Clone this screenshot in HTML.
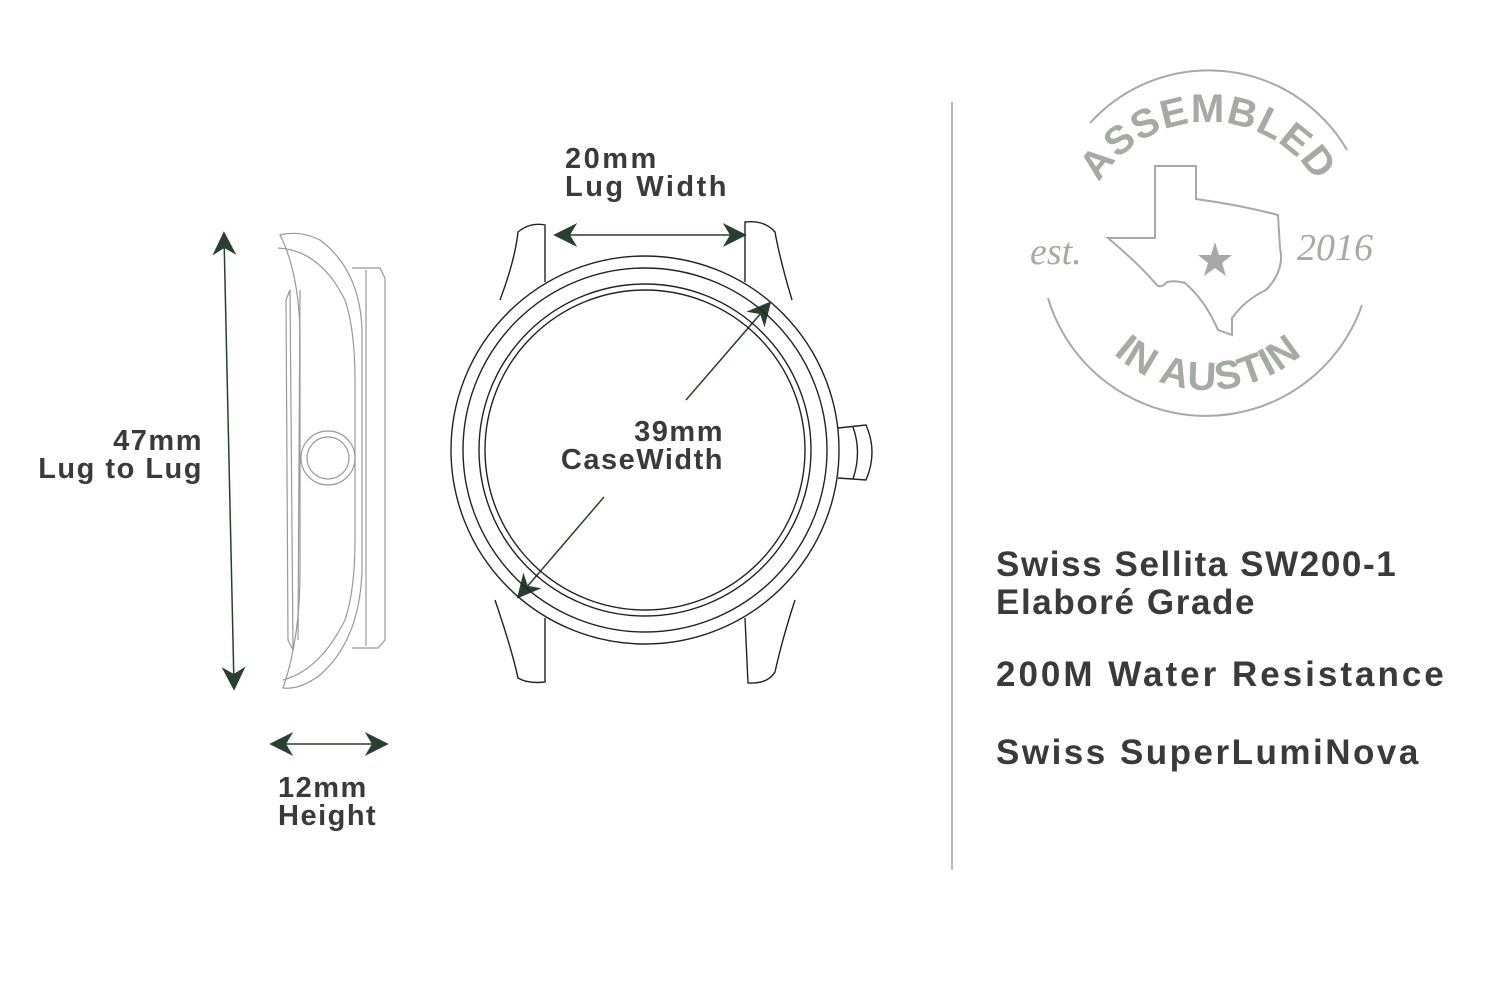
<!DOCTYPE html>
<html><head><style>
body{margin:0;width:1500px;height:984px;background:#fff;overflow:hidden;position:relative;font-family:"Liberation Sans",sans-serif;color:#3a3a3a}
.t{position:absolute;font-weight:bold;line-height:1;white-space:nowrap}
</style></head><body>
<svg width="1500" height="984" style="position:absolute;left:0;top:0">
<defs>
<marker id="b" viewBox="0 0 10 10" refX="8" refY="5" markerWidth="24" markerHeight="24" markerUnits="userSpaceOnUse" orient="auto-start-reverse"><path d="M0,0 L10,5 L0,10 L3,5 Z" fill="#27402f"/></marker>
<path id="arcTop" d="M1080,250 A128,128 0 0 1 1336,250"/>
<path id="arcBot" d="M1066,248 A142,142 0 0 0 1350,248"/>
</defs>
<g stroke="#27402f" stroke-width="1.5" fill="none">
<line x1="224" y1="236" x2="234" y2="686" marker-start="url(#b)" marker-end="url(#b)"/>
<line x1="274" y1="744" x2="384" y2="744" marker-start="url(#b)" marker-end="url(#b)"/>
<line x1="558" y1="235" x2="742" y2="235" marker-start="url(#b)" marker-end="url(#b)"/>
<line x1="686" y1="400" x2="768" y2="305" marker-end="url(#b)"/>
<line x1="604" y1="497" x2="520" y2="595" marker-end="url(#b)"/>
</g>
<g stroke="#999" stroke-width="1.2" fill="none">
<path d="M280,235 Q300,230 320,240 Q360,270 362,330 L362,570 Q360,640 320,675 Q300,690 283,688 Q300,640 300,570 L300,330 Q298,270 280,235 Z"/>
<path d="M278,248 Q320,250 345,300 Q355,330 355,380 L355,540 Q355,590 345,620 Q320,670 283,680"/>
<path d="M290,290 L286,300 L288,640 L293,650 Z"/>
<path d="M300,290 L298,640"/>
<path d="M352,268 L380,268 L385,278 L385,640 L378,648 L352,648"/>
<path d="M366,270 L366,646"/>
<circle cx="328" cy="458" r="27"/>
<circle cx="328" cy="458" r="21"/>
</g>
<g stroke="#222" stroke-width="1.4" fill="none">
<circle cx="645" cy="450" r="194"/>
<circle cx="645" cy="450" r="182"/>
<circle cx="645" cy="450" r="166"/>
<circle cx="645" cy="450" r="160"/>
<path d="M545,282 L545,225 Q530,222 518,232 Q515,260 500,300"/>
<path d="M745,282 L745,222 Q765,220 775,232 Q780,260 792,300"/>
<path d="M545,618 L545,682 Q528,684 518,678 Q512,650 495,600"/>
<path d="M745,618 L748,683 Q768,684 775,672 Q782,640 795,600"/>
<path d="M838,428 L866,425 Q878,452 866,480 L838,478"/>
<path d="M853,427 Q862,452 853,479"/>
</g>
<line x1="952" y1="102" x2="952" y2="870" stroke="#888" stroke-width="1.2"/>
<g stroke="#a5aba4" stroke-width="2" fill="none">
<path d="M1090,123 A160,160 0 0 1 1347,150"/>
<path d="M1048,298 A165,165 0 0 0 1362,305"/>
<path d="M1155,166 L1196,166 L1196,199 Q1240,205 1278,215 L1280,248 Q1285,270 1266,290 Q1245,300 1232,318 Q1232,330 1232,335 L1218,330 Q1205,300 1185,283 Q1175,280 1167,282 Q1160,290 1155,283 Q1140,265 1108,238 L1155,238 Z"/>
</g>
<polygon points="1215,242 1219,255 1232,255 1222,263 1226,276 1215,268 1204,276 1208,263 1198,255 1211,255" fill="#a5aba4"/>
<g fill="#a5aba4" font-family="Liberation Sans" font-weight="bold">
<text font-size="40" letter-spacing="1"><textPath href="#arcTop" startOffset="50%" text-anchor="middle">ASSEMBLED</textPath></text>
<text font-size="40" letter-spacing="1"><textPath href="#arcBot" startOffset="50%" text-anchor="middle">IN AUSTIN</textPath></text>
</g>
<g fill="#a5aba4" font-family="Liberation Serif" font-style="italic" font-size="38">
<text x="1030" y="264">est.</text>
<text x="1297" y="260">2016</text>
</g>
</svg>
<div class="t" style="left:0px;top:427px;font-size:29px;width:203px;text-align:right;line-height:28px;letter-spacing:1.5px">47mm<br>Lug to Lug</div>
<div class="t" style="left:278px;top:774px;font-size:29px;line-height:28px;letter-spacing:1.5px">12mm<br>Height</div>
<div class="t" style="left:565px;top:145px;font-size:29px;line-height:28px;letter-spacing:2.5px">20mm<br>Lug Width</div>
<div class="t" style="left:420px;top:418px;font-size:29px;width:304px;text-align:right;line-height:28px;letter-spacing:1.5px">39mm<br>CaseWidth</div>
<div class="t" style="left:996px;top:546px;font-size:35px;line-height:38px;letter-spacing:1.6px">Swiss Sellita SW200-1<br>Elaboré Grade</div>
<div class="t" style="left:996px;top:657px;font-size:35px;letter-spacing:3px">200M Water Resistance</div>
<div class="t" style="left:996px;top:735px;font-size:35px;letter-spacing:2.5px">Swiss SuperLumiNova</div>
</body></html>
